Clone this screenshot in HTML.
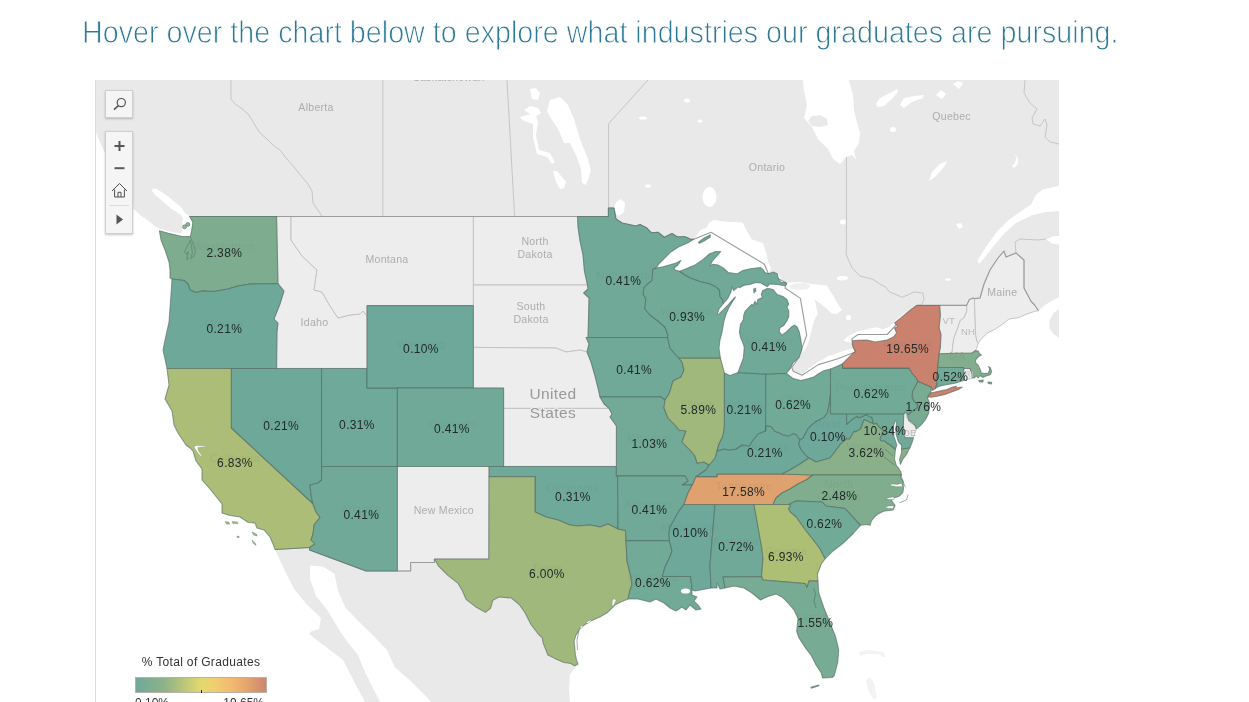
<!DOCTYPE html>
<html lang="en"><head><meta charset="utf-8"><title>Graduate industries map</title>
<style>
html,body{margin:0;padding:0;background:#fff;}
body{width:1249px;height:702px;overflow:hidden;position:relative;font-family:"Liberation Sans",sans-serif;}
#title{position:absolute;left:82.4px;top:11.5px;margin:0;font-weight:normal;font-size:30.5px;line-height:40px;color:#2d7a98;white-space:nowrap;transform-origin:0 0;transform:scaleX(0.9406);-webkit-text-stroke:0.85px #fff;paint-order:fill stroke;}
#map{position:absolute;left:95px;top:80px;width:964px;height:622px;overflow:hidden;background:#fff;}
#map:before{content:"";position:absolute;left:0;top:0;width:1px;height:622px;background:#dcdcdc;z-index:3;}
svg text{font-family:"Liberation Sans",sans-serif;}
.btn{position:absolute;left:10px;width:26px;background:#f5f5f5;border:1px solid #cfcfcf;box-shadow:0 1px 2px rgba(0,0,0,.22);z-index:4;}
#search{top:10px;height:26px;}
#zoom{top:51px;height:101px;}
#zoom svg,#search svg{position:absolute;left:0;top:0;}
#legend{position:absolute;left:40px;top:574px;width:132px;z-index:4;font-size:12px;color:#333;}
#legend .t{position:absolute;left:-10px;top:1.2px;width:152px;text-align:center;line-height:14px;white-space:nowrap;letter-spacing:0.33px;}
#legend .bar{position:absolute;left:0;top:23px;width:130px;height:14px;border:1px solid #b9b2a6;background:linear-gradient(90deg,#6fa99b 0%,#8fb28a 22%,#c4cb75 40%,#e3d96d 50%,#f0ce6f 60%,#f0b86f 75%,#e29f6d 88%,#cc866f 100%);}
#legend .tick{position:absolute;left:66px;top:36px;width:1px;height:3px;background:#222;}
#legend .lo{position:absolute;left:0;top:42.4px;line-height:14px;}
#legend .hi{position:absolute;right:3px;top:42.4px;line-height:14px;}
</style></head><body>
<h1 id="title">Hover over the chart below to explore what industries our graduates are pursuing.</h1>
<div id="map">
<svg width="964" height="622" viewBox="95 80 964 622" style="position:absolute;left:0;top:0;display:block">
<defs><filter id="soft" x="-2%" y="-2%" width="104%" height="104%"><feGaussianBlur stdDeviation="0.75"/></filter></defs>
<rect x="95" y="80" width="964" height="622" fill="#ffffff"/>
<g filter="url(#soft)">
<path d="M85,70 L802,70 L804,91 L807,105 L804,118 L812,127 L818,139 L828,149 L833,159 L840,164 L846,157 L852,155 L856,159 L854,151 L859,143 L860,133 L854,111 L853,95 L846,70 L1069,70 L1069,184 L1058.6,186 L1042.6,189.4 L1035.8,195 L1031.2,204.2 L1019.8,212.2 L1008.4,220.2 L997,231.6 L985.6,247.5 L977.6,260 L978.5,262.8 L979.9,263.5 L992.5,247.5 L1003.9,233.8 L1015.3,223.6 L1031.2,215.6 L1044.9,212.2 L1058.6,211 L1069,210 L1069,235.5 L1053,236.3 L1046.5,239.6 L1052,243.4 L1069,246 L1069,293 L1059,297.3 L1053.8,299.8 L1044.9,305 L1038.5,310.7 L1034.6,305 L1030.8,301 L1028.2,296 L1024,288 L1024,260 L1016,253 L1006,257 L1004,251 L998,258 L990,270 L984,284 L980,298 L974.4,298.6 L970,302 L966.7,306 L939.7,306 L917,306 L905,316 L897,324 L887.2,334.5 L858.1,334.5 L851.8,338.9 L854,348 L855.2,352 L837.8,358.7 L818.4,364.6 L802,375.2 L793.2,371.3 L791.8,367.5 L796.5,361 L802.3,347.1 L806.7,335.2 L800.4,298.4 L785,288 L786,282.8 L768.2,273.2 L764.4,264.2 L711,232.2 L693.8,239.2 L690,240.5 L680,241 L650,240 L620,232 L600,222 L200,222 L189.5,216.5 L184,212 L181,207 L176,203 L170,198 L163,193 L157,189 L153,188.5 L152,191 L155,195 L160,199 L166,204 L171,208.6 L176,211.6 L180.6,214.8 L183,217.8 L182.4,222 L182.4,227 L182,231 L181,233.4 L175,232.4 L168,231 L162,229.6 L159,228.5 L159,228.5 L155,226 L147,219.7 L140,215 L132.7,208 L126,198 L118.5,185.5 L112,170 L104,151 L100,142 L95,130 L85,112Z" fill="#e9e9e9"/>
<path d="M1070,305 L1060,308.8 L1053.8,312.7 L1049.4,320.4 L1049.4,328 L1053.8,334.5 L1060,338.3 L1070,342Z" fill="#e9e9e9"/>
<path d="M275,549.4 L284,569 L294,589 L306,603.5 L321,618 L319,629 L311,631.5 L309,633.5 L314,638 L323.5,645 L343,660 L350.5,674.6 L358,689 L365,702 L370,712 L384,712 L380,702 L372.5,687 L365,672 L358,655 L348,642.7 L338,628 L328,611 L316,596 L310,579 L310,565.5 L323.5,566.8 L334.6,574 L338,591 L345.6,608 L358,620.7 L372.5,635 L387,650 L394.6,667 L409,679.5 L426.5,696.7 L431,702 L440,712 L571,712 L570,702 L569,690 L570,674 L577,666 L572,658 L556,650 L548,636 L536,616 L516,594 L498,590 L490,600 L482,604 L470,592 L460,578 L446,562 L440,555 L420,560 L405,566 L390,566 L360,565 L318,549 L300,545Z" fill="#e9e9e9"/>
<path d="M808,121 L812,116 L820,115 L827,119 L828,125 L820,127 L812,126Z" fill="#e9e9e9"/>
<g fill="#ffffff">
<path d="M693.8,239.2 L697.7,234 L700.3,230.3 L706.7,227.7 L709.2,222.6 L714,220 L722,221.3 L730,222 L742.6,222.6 L746.4,230.3 L751.5,239.2 L763,243 L766.3,253.3 L768.2,262.3 L770.8,267.4 L769.5,272 L778,274 L782,280 L786,282.8 L780,290 L740,285 L700,280 L660,272 L655,266 L675,248Z"/>
<path d="M786,282.8 L800,282 L811.3,284 L826.7,285.6 L831.8,293.3 L836.9,302.3 L842,310 L836.9,313.8 L831.8,313.8 L826.7,308.7 L820.3,303.6 L816.4,301 L814.5,298.5 L816,305 L817.7,313.8 L813.8,321.5 L811.3,331.8 L808.7,342 L804.9,350 L803,352 L798,350 L790,320 L775,290Z"/>
<path d="M790.3,368.4 L791.8,370.4 L799,374.2 L803.9,372.8 L808.7,368.4 L813.6,364.6 L818.4,361.6 L824.2,358.7 L828.1,355.8 L833,354.9 L837.8,352.9 L843.6,351 L849.4,349 L854.3,348.1 L856,351.5 L850,360 L835,370 L810,382 L790,378 L786,373Z"/>
<path d="M853,343 L848,342 L843.3,340.8 L847.5,336.5 L857.2,331.6 L866.9,329.2 L876.5,327.3 L883,329.2 L889.5,326.7 L893.3,322.8 L899.7,316.4 L908.7,310 L917,305 L918,307 L902,320 L898,330 L895,340 L870,344Z"/>
<path d="M803,348 L801,353.9 L798.5,359 L796.2,360.7 L792.3,364.6 L790.3,368.4 L793.2,362.6 L799,357.8 L802,349Z"/>
<path d="M614,208 L616,202 L621,199 L625,203 L624,212 L619,216 L616,214Z"/>
<path d="M550,100 L560,97 L568,105 L574,119 L580,139 L588,159 L591,171 L586,185 L582,183 L581,169 L576,155 L570,143 L564,143 L558,129 L550,117 L547,111Z"/>
<path d="M524,110 L530,106 L538,108 L541,113 L536,116 L538,122 L536,135 L539,150 L550,153 L555,162 L552,164 L547,157 L537,154 L533,137 L533,124 L522,120 L520,117 L530,114Z"/>
<path d="M553,171 L557,171 L566,182 L564,188 L560,189 L556,182Z"/>
<path d="M530,89 L536,88 L540,93 L538,100 L532,99Z"/>
<path d="M876,104 L880,98 L890,93 L897,89 L898,92 L892,99 L884,106 L878,107Z"/>
<path d="M900,105 L904,98 L914,96 L924,95 L923,98 L912,102 L904,108Z"/>
<path d="M936,95 L941,90 L946,94 L942,99Z"/>
<path d="M953,84 L958,81 L963,83 L959,89Z"/>
<path d="M929,181 L932,172 L940,164 L947,161 L944,167 L936,176Z"/>
<path d="M1012,166 L1015,163 L1016.5,158 L1014.5,153 L1018,158 L1018,164 L1014,168Z"/>
<path d="M956,224 L961,223 L963,227 L959,229Z"/>
<ellipse cx="709.5" cy="197" rx="7" ry="10"/>
<ellipse cx="848.5" cy="317.5" rx="2.6" ry="2.6"/>
<ellipse cx="842" cy="278.2" rx="5" ry="2.2"/>
<ellipse cx="893" cy="129.5" rx="3" ry="2.6"/>
<ellipse cx="648" cy="186" rx="3" ry="1.5"/>
<ellipse cx="687" cy="100.5" rx="3" ry="2"/>
<ellipse cx="643" cy="118" rx="4" ry="1.5"/>
<ellipse cx="700" cy="121" rx="2.5" ry="1.5"/>
<ellipse cx="948" cy="279.5" rx="3" ry="1.3"/>
<ellipse cx="843" cy="222" rx="3" ry="2.5"/>
<ellipse cx="844" cy="278" rx="4" ry="2"/>
</g>
<path d="M789.5,285.5 L795,283.5 L804,283 L811,285.5 L808,289 L799,290 L791,289Z" fill="#efefef"/>
<path d="M859,652 L868,650 L884,652 L885,657 L882,657 L880,654 L866,654 L860,656Z M866,680 L870,677 L874,683 L877,698 L873,699 L868,690Z" fill="#f3f3f3"/>
</g>
<g fill="none" stroke="#bdbdbd" stroke-width="0.8">
<path d="M231,80 L231,99 L235,104 L241,108 L248,114 L252,120 L256,127 L260,133 L268,140 L274,146 L280,150 L286,158 L294,167 L302,177 L308,184 L312,191 L313,203 L320,213 L322,216.5"/>
<path d="M382.8,80 L382.8,216.5"/>
<path d="M507,80 L514.6,216.5"/>
<path d="M648,80 L608.6,123.6 L608.6,208"/>
<path d="M846.4,157 L846.4,250 L846,254 L852,268 L860,276 L872.8,279.2 L880.5,284.4 L885.6,287 L889.5,292 L896,294.6 L902.3,297.2 L908.7,294.6 L914,292 L923,293 L924,300 L921,305 L917,305.4"/>
<path d="M1025,80 L1024,93 L1030,103 L1037,109 L1032,118 L1033,124 L1040,126 L1045,119 L1047,125 L1045,137 L1050,142 L1059,144"/>
<path d="M1016,253 L1015,242 L1020,239 L1038,240 L1046,239"/>
</g>
<g fill="#ededed" stroke="#c2c2c2" stroke-width="0.95" stroke-linejoin="round">
<path d="M276.6,216.5 L291,216.5 L291,240 L302,256 L317,270 L314,290 L322,292 L330,306 L338,318 L350,315 L360,314 L363,311 L367,316 L367,368.4 L276.6,368.4 L277,332 L278,323 L274,319 L280,304 L284,291 L278,283.6Z"/>
<path d="M291,216.5 L473.4,216.5 L473.4,305.6 L367,305.6 L367,316 L363,311 L360,314 L350,315 L338,318 L330,306 L322,292 L314,290 L317,270 L302,256 L291,240Z"/>
<path d="M473.4,216.5 L577.6,216.5 L578,227 L580,241 L583,255 L584.4,271 L587,283 L587.5,285 L473.4,285Z"/>
<path d="M473.4,285 L587.5,285 L588,289 L583.6,293 L589,298 L588,337.4 L586,337.4 L589,344 L587,352 L580,350 L566,352 L556,348 L473.4,347.4Z"/>
<path d="M473.4,347.4 L556,348 L566,352 L580,350 L587,352 L587,352 L591,362 L595,376 L598,388 L600,397 L604,404 L609,408.4 L503.6,408.4 L503.6,388 L473.4,388Z"/>
<path d="M503.6,408.4 L609,408.4 L612,414 L610,417 L616.4,426 L616.4,466.4 L503.6,466.4Z"/>
<path d="M397.4,466.4 L489,466.4 L488.8,559 L434.4,559 L434.4,562.5 L410.6,562.5 L410.6,571 L397.4,571Z"/>
<path d="M903.8,413.8 L905.9,412.3 L907,418.2 L909.9,422.5 L915,425.4 L916.4,429 L914.2,434.9 L913.5,437.8 L904.8,437.8 L903.3,425.4Z"/>
<path d="M963.7,368.4 L969.9,368.4 L971.8,373 L972.4,378 L968,379.3 L963.5,380.6Z"/>
<path d="M939.7,305.4 L966.7,305.4 L966.7,311.4 L964.1,317.8 L960.3,320.4 L957.7,328 L953.8,338.3 L952.6,347.3 L952,353.2 L939.1,353.7 L940.4,347.3 L941,334.5 L939.1,328 L940.4,315.2Z"/>
<path d="M966.7,305.4 L969.2,299.8 L973,298 L974.4,298.6 L975,315.2 L975.6,334.5 L977,341.5 L978.5,342.8 L977,347 L975.6,350.5 L971.8,353 L952,353.2 L952.6,347.3 L953.8,338.3 L957.7,328 L960.3,320.4 L964.1,317.8 L966.7,311.4Z"/>
<path d="M974.4,298.6 L980,298 L984,284 L990,270 L998,258 L1004,251 L1006,257 L1016,253 L1024,260 L1024,288 L1028.2,296 L1030.8,301 L1034.6,305 L1038.5,310.7 L1034.6,311.4 L1027,314 L1018,317.8 L1009,319 L1002.6,324.2 L994.9,329.3 L987.2,333.2 L982,338.3 L978.5,342.8 L977,341.5 L975.6,334.5 L975,315.2Z"/>
</g>
<g fill="none" stroke="#9c9c9c" stroke-width="1.1" stroke-linejoin="round">
<path d="M275,549.4 L309.6,547.4 L309.6,550 L366,571 L410.6,571 L410.6,562.5 L434.4,562.5 L434.4,559"/>
<path d="M189.5,216.5 L608.4,216.5 L608.4,208 L614,208 L616,219 L622,223 L636,226 L640,224.5 L646.4,227.7 L651.5,232.8 L658,232.2 L664.4,237.3 L672,233.5 L677,236.7 L685,236.7 L690.6,239.2 L693.8,239.2 L711,232.2 L764.4,264.2 L768.2,273.2 L779,279 L786,282.8 L785,288 L800.4,298.4 L806.7,335.2 L802.3,347.1 L796.5,361 L791.8,367.5 L793.2,371.3 L802,375.2 L818.4,364.6 L837.8,358.7 L855.2,352 L854,348 L851.8,338.9 L858.1,334.5 L887.2,334.5 L897,324 L905,316 L917,305.4 L939.7,305.4 L966.7,305.4 L969.2,299.8 L973,298 L974.4,298.6 L980,298 L984,284 L990,270 L998,258 L1004,251 L1006,257 L1016,253 L1024,260 L1024,288 L1028.2,296 L1030.8,301 L1034.6,305 L1038.5,310.7"/>
</g>
<g stroke="#4f665f" stroke-opacity="0.6" stroke-width="1.05" stroke-linejoin="round">
<path d="M189.5,216.5 L276.6,216.5 L278,283.6 L250,284 L238,286 L228,289 L214,291.6 L202,291 L196,292.4 L190,290 L188,284 L184,280.4 L172,279 L170,278 L170,270 L169,262 L165,250 L161,240 L159.4,230.8 L168.5,233.2 L181.3,236.2 L190.3,236.4 L191.5,231.3 L192.8,222.3Z" fill="#7eac8e"/>
<path d="M278,283.6 L284,291 L280,304 L274,319 L278,323 L277,332 L276.6,368.4 L167,368.4 L163,350 L165,340 L169,322 L171,294 L172,279 L184,280.4 L188,284 L190,290 L196,292.4 L202,291 L214,291.6 L228,289 L238,286 L250,284Z" fill="#6ea899"/>
<path d="M167,368.4 L231.4,368.4 L231.4,428 L312.8,503.5 L316,512 L320,517.4 L314,525 L313,534 L311,540 L315,544 L309.6,547.4 L275,549.4 L273,544 L270,537 L264,530 L257,528 L255,523 L248,522.4 L240,517 L230,515.6 L222,513 L222,504 L218,499 L210,489 L202,480 L202,469 L196,461 L193,451 L190,448 L186,445 L178,433 L174,425 L172,411 L165,399 L169,385Z" fill="#abbd76"/>
<path d="M231.4,368.4 L321.6,368.4 L321.6,480 L318,483 L310,485 L311,495 L312.8,503.5 L231.4,428Z" fill="#6ea899"/>
<path d="M321.6,368.4 L367,368.4 L367,388 L397.4,388 L397.4,466.4 L321.6,466.4Z" fill="#6fa999"/>
<path d="M321.6,466.4 L397.4,466.4 L397.4,571 L366,571 L309.6,550 L309.6,547.4 L315,544 L311,540 L313,534 L314,525 L320,517.4 L316,512 L312.8,503.5 L311,495 L310,485 L318,483 L321.6,480Z" fill="#70a998"/>
<path d="M367,305.6 L473.4,305.6 L473.4,388 L367,388Z" fill="#6da89a"/>
<path d="M397.4,388 L503.6,388 L503.6,466.4 L397.4,466.4Z" fill="#70a998"/>
<path d="M489,466.4 L616.4,466.4 L616.4,476 L617.6,476 L618,525 L618,529 L608,524 L600,527 L590,525 L578,526 L570,525 L558,520 L546,517 L535,512 L535,476.6 L489,476.6Z" fill="#6fa999"/>
<path d="M489,476.6 L535,476.6 L535,512 L546,517 L558,520 L570,525 L578,526 L590,525 L600,527 L608,524 L618,529 L625.6,530.6 L626,540.6 L627,561 L629,569 L631,577 L632,585 L630,590 L628,599 L620.9,602 L615.2,604.8 L612.9,607.1 L607.2,612.8 L600.3,616.8 L591.2,620.8 L585.5,624.2 L579.8,628.8 L575.8,635.6 L574.1,641.3 L574.7,647 L575.3,653.9 L576.4,659.6 L578.1,664.1 L574.7,665.8 L570.7,663.5 L563.9,662.4 L554.7,658.4 L547.9,655 L543.3,643.6 L542.2,637.9 L537.6,633.3 L530.8,624.2 L525,612.8 L519.4,604.8 L511.4,598 L499,597 L492.8,600.4 L490.5,608.4 L485.4,612.4 L476.3,607.3 L466,599.3 L462.6,591.3 L458,583.3 L447.8,575.3 L438.6,566.2 L434.4,559 L488.8,559Z" fill="#a0b87b"/>
<path d="M577.6,216.5 L608.4,216.5 L608.4,208 L614,208 L616,219 L622,223 L636,226 L640,224.5 L646.4,227.7 L651.5,232.8 L658,232.2 L664.4,237.3 L672,233.5 L677,236.7 L685,236.7 L690.6,239.2 L693.8,239.2 L688.7,242.4 L678.5,247 L670.8,252 L664.4,258.5 L659.2,263.6 L656,268 L652.8,269.4 L652.2,280.3 L647.7,284 L643.8,288 L643.2,294.4 L645.8,298.2 L645,309 L650,315 L658,321 L665,327 L668,335 L667.6,337.4 L588,337.4 L589,298 L583.6,293 L588,289 L587.5,285 L587,283 L584.4,271 L583,255 L580,241 L578,227Z" fill="#70a998"/>
<path d="M586,337.4 L667.6,337.4 L670,348 L676,355 L679,358 L682,362 L684,370 L681,377 L673,381 L671,388 L669,394 L665,400 L661,397 L600,397 L598,388 L595,376 L591,362 L587,352 L589,344Z" fill="#70a998"/>
<path d="M600,397 L661,397 L665,400 L664,408 L668,418 L676,426 L679,430 L686,431 L682,442 L690,450 L695,456 L697,463 L704,462 L709,465 L706,470 L700,474 L696,476.6 L692.4,485 L682,485 L688,481 L685,476 L616.4,476 L616.4,426 L610,417 L612,414 L609,408.4 L604,404Z" fill="#73aa97"/>
<path d="M617.6,476 L685,476 L688,481 L682,485 L692.4,485 L688,493 L684,504.4 L679,511 L674,520 L670,527 L669,533 L669.4,540.6 L626,540.6 L625.6,530.6 L618,529 L618,525Z" fill="#70a998"/>
<path d="M626,540.6 L669.4,540.6 L672,551 L669,559 L665,567 L662.4,576.4 L690.6,576.4 L691.6,585 L692,590 L692,595 L697,597 L694,601 L698,605 L701,609 L696,610 L690,605 L686,610 L682,607 L676,611 L670,608 L664,603 L656,599 L650,602 L638,599 L628,599 L630,590 L632,585 L631,577 L629,569 L627,561Z" fill="#71aa97"/>
<path d="M684,504.4 L715,504.4 L710,565 L711,588 L695,591 L692,590 L691.6,585 L690.6,576.4 L662.4,576.4 L665,567 L669,559 L672,551 L669.4,540.6 L669,533 L670,527 L674,520 L679,511Z" fill="#6da89a"/>
<path d="M715,504.4 L754,504.4 L762,549 L763,559 L761.6,576.4 L723,577 L725,588 L720,589 L717,583 L717,588 L711,588 L710,565Z" fill="#71a998"/>
<path d="M684,504.4 L688,493 L692.4,485 L696,476.6 L717,476.6 L717,474 L782,474 L813,475 L806,480 L798,484 L790,489 L782,493 L776,498 L773,504.4Z" fill="#dfa16e"/>
<path d="M696,476.6 L700,474 L706,470 L709,465 L715,458 L717,451 L724,449 L730,450 L736,449 L742,445 L749,446 L753,440 L758,434 L765.6,430.8 L765.5,426.4 L766.8,425.6 L771.4,426.7 L774.8,431.3 L778.2,432.4 L782.8,434.7 L788.5,435.9 L793,433.6 L796.5,434.7 L799.9,439.8 L798.8,443.8 L801,449.5 L805.6,455.2 L809,458 L800,464 L790,470 L782,474 L717,474 L717,476.6Z" fill="#6ea899"/>
<path d="M679,358 L720.4,358 L724.4,373 L724.4,426 L723,436 L719,444 L717,451 L715,458 L709,465 L704,462 L697,463 L695,456 L690,450 L682,442 L686,431 L679,430 L676,426 L668,418 L664,408 L665,400 L669,394 L671,388 L673,381 L681,377 L684,370 L682,362Z" fill="#a0b87c"/>
<path d="M724.4,373 L730,375.6 L738,372.5 L765.8,374 L765.6,430.8 L758,434 L753,440 L749,446 L742,445 L736,449 L730,450 L724,449 L717,451 L719,444 L723,436 L724.4,426Z" fill="#6ea899"/>
<path d="M765.8,374 L786.5,373.3 L793.2,378.6 L801,380.5 L808.7,378.6 L813.6,377.1 L818.4,373.7 L824.2,370.4 L830.5,368.9 L830.5,395 L829.5,402.8 L827.3,413 L823.8,417.6 L817,421 L812.4,424.4 L807.9,429 L805.6,433.6 L803.3,438 L799.9,439.8 L796.5,434.7 L793,433.6 L788.5,435.9 L782.8,434.7 L778.2,432.4 L774.8,431.3 L771.4,426.7 L766.8,425.6 L765.5,426.4 L765.6,430.8Z" fill="#71aa97"/>
<path d="M656,268 L663,266.8 L670.8,264.6 L674.6,263.6 L681,260.4 L678,265 L674,268 L675.3,270 L679.7,271.3 L684.9,275 L691.3,278.3 L700.3,281.5 L709.2,283.5 L715.6,286.7 L719.5,290 L720,296.5 L722.4,299.4 L723.4,303.5 L719,309 L717.1,314.9 L719,313.9 L723.9,309 L728.7,304.2 L731.6,300.8 L734.6,297.4 L735.5,297 L731.6,303.2 L728.7,308 L725.8,314.9 L723.9,321.6 L722,332.3 L720,340 L719,348 L720.4,358 L679,358 L676,355 L670,348 L667.6,337.4 L668,335 L665,327 L658,321 L650,315 L645,309 L645.8,298.2 L643.2,294.4 L643.8,288 L647.7,284 L652.2,280.3 L652.8,269.4Z" fill="#72aa98"/>
<path d="M679.7,271.3 L686,268.7 L695,264.9 L702.8,259.7 L709.2,254 L715.6,251.4 L720.8,251.4 L717,256 L712.4,261 L710,266 L713,264.2 L718.2,264.9 L723.3,268 L728.5,272.6 L733.6,273.2 L737.4,273.8 L742.6,270.6 L750.3,268.7 L760.5,267.4 L763,269.4 L765,272.6 L768.2,273.8 L773.3,272 L777.2,273.8 L778.5,279 L781,282.2 L786,282.8 L786.9,283.9 L784.9,285.8 L777.2,284.4 L769.4,283.9 L767.5,286.6 L765.5,285.8 L760.7,282.9 L755.9,282.4 L750,284.4 L744.2,285.3 L739.4,287.7 L738.4,286.8 L733.6,290.7 L732.1,286.8 L730.7,292.6 L727.8,298.4 L723.4,303.5 L722.4,299.4 L720,296.5 L719.5,290 L715.6,286.7 L709.2,283.5 L700.3,281.5 L691.3,278.3 L684.9,275Z" fill="#70a998"/>
<path d="M767.5,288.5 L770.4,288.7 L773.3,289.7 L777.2,294.5 L783,296.5 L786.9,299.4 L788.8,304.2 L786.9,307 L788.8,311 L788.8,316.8 L786.9,320.7 L783.9,325.5 L780.1,327.5 L779.1,331.3 L782,335.2 L786.9,331.3 L790.7,327.5 L794.6,325 L797.5,327.5 L799.4,332.3 L800.9,340 L802,349 L799,357.8 L793.2,362.6 L790.3,368.4 L786.5,373.3 L765.8,374 L738,372.5 L740.2,366.5 L743.4,358 L744,350 L744.2,347 L743.3,344 L740.8,338 L739.4,332.3 L740.4,324.6 L743.3,319.7 L743.8,314.9 L745.2,311 L748.1,308 L752,304.2 L753,306 L754.9,301.3 L756.8,304.2 L757.8,299.4 L762.6,297.4 L761.2,294.5 L762.6,290.7 L766.5,288.7Z" fill="#70a998"/>
<path d="M698.3,242.4 L704,238 L710.5,234.7 L710,237.3 L704,241 L699.6,243.3Z" fill="#70a998"/>
<path d="M753.6,289 L755.6,288.2 L755.9,291 L754,293Z" fill="#70a998"/>
<path d="M830.5,395 L830.5,413.8 L846.6,413.8 L846.6,424.3 L851.8,419.6 L856.9,416.3 L859,417.8 L862.7,416.3 L866.3,414.5 L869.2,416.7 L871.8,417 L872.8,421 L873.6,424 L864.1,419.6 L863,422.5 L860.5,429 L855.4,432 L854,431.2 L849.6,439.2 L847.4,438.5 L840.9,443.6 L834,453 L830,458 L816,462 L809,458 L805.6,455.2 L801,449.5 L798.8,443.8 L799.9,439.8 L803.3,438 L805.6,433.6 L807.9,429 L812.4,424.4 L817,421 L823.8,417.6 L827.3,413 L829.5,402.8Z" fill="#6da89a"/>
<path d="M782,474 L790,470 L800,464 L809,458 L816,462 L830,458 L834,453 L840.9,443.6 L847.4,438.5 L849.6,439.2 L854,431.2 L855.4,432 L860.5,429 L863,422.5 L864.1,419.6 L873.6,424 L876.5,423.2 L878,425.4 L880.8,428.3 L883.7,430.5 L882.3,434 L880.1,438.5 L880.8,440.7 L884.5,440.7 L886.6,442.8 L890.3,445 L893.9,448 L895.4,449.4 L895.1,453 L894.5,459.2 L896.4,465.6 L899,468.8 L900.9,472 L901.5,474.9 L813,475Z" fill="#89b088"/>
<path d="M901.5,449 L909.9,447.7 L906.7,454.1 L902.8,459.2 L900.3,464.4 L899.6,459.2 L901.5,452.8Z" fill="#89b088"/>
<path d="M846.6,413.8 L903.8,413.8 L903.3,425.4 L904.8,437.8 L913.5,437.8 L912,442.8 L909.9,447.7 L901.5,449 L901.5,445 L899,442.8 L897.5,439.2 L896.1,434.1 L895.7,429 L896.4,424 L896.8,421 L895.4,421 L893.9,424.7 L893.2,430.5 L893.9,436.3 L895.4,440.7 L896.8,445 L895.4,449.4 L893.9,448 L890.3,445 L886.6,442.8 L884.5,440.7 L880.8,440.7 L880.1,438.5 L882.3,434 L883.7,430.5 L880.8,428.3 L878,425.4 L876.5,423.2 L873.6,424 L872.8,421 L871.8,417 L869.2,416.7 L866.3,414.5 L862.7,416.3 L859,417.8 L856.9,416.3 L851.8,419.6 L846.6,424.3Z" fill="#70a998"/>
<path d="M917.8,381.3 L931.4,387.1 L930.9,392.5 L929.4,395.4 L927.5,398.3 L929.4,402.2 L929.4,408 L928.5,413.8 L925.5,419.6 L921.7,424.4 L917.8,427.8 L916.3,428.8 L914.9,425.4 L912,422.5 L909,420.5 L907.6,416.7 L907.6,414.7 L909,413.8 L913,410.9 L916.8,408 L917.8,405 L913.9,401.2 L912,397.3 L912.5,391.5 L914.9,386.7Z" fill="#79ab93"/>
<path d="M830.5,368.9 L837.8,366 L842.6,363.6 L842.6,368.1 L909,368.1 L912,373 L917,379 L917.8,381.3 L914.9,386.7 L912.5,391.5 L912,397.3 L913.9,401.2 L917.8,405 L916.8,408 L913,410.9 L909,413.8 L907.6,414.7 L905.9,412.3 L903.8,413.8 L830.5,413.8Z" fill="#71aa97"/>
<path d="M842.6,368.1 L842.6,363.6 L847.5,358.7 L852.3,353.9 L855.7,351.5 L853.3,348 L852.3,344.2 L852.3,340.8 L857.2,340.3 L866.9,339.9 L875.4,342 L887,340 L893.3,337 L896.5,333 L894.6,328 L897.8,326.7 L894.6,322.8 L901,317.7 L910.3,310 L916.7,305.4 L939.7,305.4 L940.4,315.2 L939.1,328 L941,334.5 L940.4,347.3 L939.1,353.7 L938.5,360 L937.8,367.2 L937.2,375.5 L936,380 L937.2,383.7 L935.2,388.6 L932.3,390.5 L931.4,387.1 L917.8,381.3 L917,379 L912,373 L909,368.1Z" fill="#ca816e"/>
<path d="M927.5,396.8 L930.4,392.9 L935.2,392 L942,390.5 L946.9,389.6 L952.7,387.1 L956.5,386.2 L955.6,388.1 L962.3,387.1 L958.5,389.6 L951.7,392 L944.9,394.4 L937.2,396.3 L931.4,397.3Z" fill="#ca816e"/>
<path d="M937.8,367.5 L963.7,367.5 L963.5,380.6 L955,383.2 L944.9,385 L938.5,386.5 L935.2,388.6 L937.2,383.7 L936,380 L937.2,375.5Z" fill="#71aa97"/>
<path d="M939.1,353.7 L971.8,353 L975.6,350.5 L978.2,351 L979.5,353.7 L981.4,355 L978.2,356.9 L975.6,360 L975.6,362.7 L978.2,365.2 L980,369 L981.4,373 L984.6,373.6 L988.5,373 L989.7,369 L988.5,366.5 L990.4,367.8 L991.7,371.6 L990.4,374.8 L985.9,376 L982.7,377.4 L980,375.5 L978.2,378 L976.3,376 L974.4,378 L972.4,378 L971.8,373 L969.9,368.4 L963.7,368.4 L963.7,367.5 L937.8,367.2 L938.5,360Z" fill="#82ae8d"/>
<path d="M978.8,380.5 L983.3,380 L983,382 L979.5,382Z" fill="#82ae8d"/>
<path d="M987.8,382 L991.7,382.3 L991.5,384 L988.5,383.6Z" fill="#82ae8d"/>
<path d="M813,475 L901.5,474.9 L900.3,477.2 L903,481 L903.5,488.7 L902.8,492.6 L899,496.4 L893.8,497.7 L891.3,500.3 L895.1,505.4 L893.2,509.9 L888.7,510.5 L883.6,511.2 L878.5,513.7 L874.6,516.9 L871.4,520.8 L870.1,525.3 L866.9,524.6 L860.5,525.3 L845.1,508.6 L826,506 L822,502 L796,501 L789,504.4 L773,504.4 L776,498 L782,493 L790,489 L798,484 L806,480Z" fill="#7fad8e"/>
<path d="M789,504.4 L796,501 L822,502 L826,506 L845.1,508.6 L860.5,525.3 L853.7,533 L843.4,543 L833,551 L825,559 L820,549 L814,541 L806,531 L796,517 L790.6,512.4 L788.4,508.8 L790.6,505Z" fill="#71aa97"/>
<path d="M754,504.4 L789,504.4 L790.6,505 L788.4,508.8 L790.6,512.4 L796,517 L806,531 L814,541 L820,549 L825,559 L821.3,564 L817.4,574.5 L818,581 L809,581 L807,587.5 L805,583.5 L763,580 L761.6,576.4 L763,559 L762,549Z" fill="#adbe75"/>
<path d="M723,577 L761.6,576.4 L763,580 L805,583.5 L807,587.5 L809,581 L818,581 L818.7,592.6 L824,608 L830.4,623.7 L835.6,636.7 L838.7,649.7 L837.7,662.6 L834.3,675.6 L832.5,677.4 L822.6,678 L821.3,673 L816,665 L811,655 L805.8,648.4 L799,638 L796.7,631.5 L798,618.5 L794,610 L788,603 L782,597 L776,594 L768,596.5 L760.4,600 L752,593 L744,588 L734,586 L725,588Z" fill="#77ab94"/>
<path d="M811,687.3 L818.7,684.9 L818.9,685.8 L811.2,688.2Z" fill="#77ab94"/>
</g>
<g fill="#ffffff">
<path d="M194,446.8 L196.5,445.6 L206,446 L206,446.8 L197.6,447.4 L198.5,451 L202,456 L200.6,456.2 L196.6,451.2Z" stroke="#4d6b62" stroke-opacity="0.45" stroke-width="0.5"/>
<ellipse cx="685.5" cy="591" rx="4.6" ry="2.6"/>
<path d="M612,604.5 L612.4,600 L614.5,598.8 L616,600.5 L614.6,603.5 L613.2,606.2Z M586,622.6 L590.5,620 L591.5,621 L587.5,623.6Z M580,627 L582,625.4 L583,626.6 L581,628.4Z" stroke="#4f665f" stroke-opacity="0.5" stroke-width="0.5"/>
<path d="M889.6,485.6 L892,484 L897,484.4 L901.5,483.2 L902.6,486.6 L897,486.8 L893,486Z M885.5,498.6 L890,497.4 L894,497 L894,499.4 L889,499.6Z M884.5,507 L889,506 L893.6,506 L893.4,508.4 L888,508.2Z" stroke="#4f665f" stroke-opacity="0.5" stroke-width="0.6"/>
</g>
<g fill="none" stroke="#4d6b62" stroke-opacity="0.6" stroke-width="0.9">
<path d="M190.3,236.4 L192.2,241.5 L194.1,246.7 L195.4,251.8 L193.5,257 L190.6,258.4 L192.4,253 L191.6,247.5 L190.3,240.3 L187.7,245.4 L184.5,251.8 L186.4,254.4 L188.3,251.6 L186.6,259.2 L189,258.6" stroke-width="0.8"/>
<circle cx="184.6" cy="226.8" r="2" fill="#8fb5a0"/><circle cx="187.9" cy="224.4" r="2" fill="#8fb5a0"/>
<path d="M901,476 L905.4,487.4 M908,494.5 L906.7,499.6 L899.6,502.8"/>
<path d="M813.5,588 L815.5,594 L814,601 L816,608"/>
<path d="M885,449 L893,456 M884,457 L894.5,465 M579,630 L577,640 L577.5,650"/>
</g>
<path d="M225,521.5 L229,522.3 L229.5,524.2 L226.5,524Z M232,521.6 L237.5,522 L237.8,523.6 L233,523.5Z M252,532 L256.5,534 L257,536 L253.5,535Z M237,536 L239.2,536.6 L239,537.8 L237,537.2Z M252,540 L255.5,543.5 L256,545.5 L253,543Z" fill="#abbd76" stroke="#4d6b62" stroke-opacity="0.6" stroke-width="0.6"/>
<g font-size="11" fill="#5b7f76" fill-opacity="0.13" text-anchor="middle" letter-spacing="0.4">
<text x="224" y="250">Washington</text>
<text x="224" y="327">Oregon</text>
<text x="235" y="462">California</text>
<text x="281" y="424">Nevada</text>
<text x="357" y="424">Utah</text>
<text x="361" y="513">Arizona</text>
<text x="421" y="348">Wyoming</text>
<text x="452" y="428">Colorado</text>
<text x="573" y="492">Oklahoma</text>
<text x="547" y="572">Texas</text>
<text x="623" y="279">Minnesota</text>
<text x="687" y="315">Wisconsin</text>
<text x="634" y="368">Iowa</text>
<text x="698" y="408">Illinois</text>
<text x="744" y="408">Indiana</text>
<text x="793" y="403">Ohio</text>
<text x="649" y="442">Missouri</text>
<text x="765" y="451">Kentucky</text>
<text x="769" y="345">Michigan</text>
<text x="649" y="508">Arkansas</text>
<text x="690" y="531">Mississippi</text>
<text x="736" y="545">Alabama</text>
<text x="786" y="555">Georgia</text>
<text x="744" y="490">Tennessee</text>
<text x="653" y="581">Louisiana</text>
<text x="815" y="621">Florida</text>
<text x="908" y="347">New York</text>
<text x="871" y="391">Pennsylvania</text>
<text x="866" y="451">Virginia</text>
<text x="839" y="488">North</text><text x="839" y="500">Carolina</text><text x="828" y="428">West</text><text x="828" y="440">Virginia</text>
</g>
<g font-size="10.6" fill="#adadad" text-anchor="middle" letter-spacing="0.25">
<text x="316" y="110.8">Alberta</text>
<text x="448.6" y="81.2">Saskatchewan</text>
<text x="767" y="171.4">Ontario</text>
<text x="951.6" y="120.2">Quebec</text>
<text x="387" y="263.2">Montana</text>
<text x="314.5" y="326.4">Idaho</text>
<text x="535" y="245.2">North</text>
<text x="535" y="257.6">Dakota</text>
<text x="531" y="310.2">South</text>
<text x="531" y="323.2">Dakota</text>
<text x="443.8" y="514.4">New Mexico</text>
<text x="1002.3" y="295.8">Maine</text>
<text x="957.5" y="360" fill="#7d9f86" fill-opacity="0.7">MA</text><text x="969" y="377" fill="#c8c8c8" font-size="9">RI</text><g font-size="9.5" fill="#b9b9b9"><text x="948.8" y="324">VT</text><text x="968" y="334.5">NH</text><text x="909.8" y="436.3">DE</text></g>
</g>
<g font-size="15.5" fill="#999999" text-anchor="middle" letter-spacing="0.4" stroke="#ededed" stroke-width="2.4" paint-order="stroke" stroke-linejoin="round"><text x="553" y="398.5">United</text><text x="553" y="417.6">States</text></g>
<g font-size="12" fill="#222a27" text-anchor="middle" letter-spacing="0.35">
<text x="224.3" y="256.8">2.38%</text>
<text x="224.3" y="332.8">0.21%</text>
<text x="235" y="467.4">6.83%</text>
<text x="281.2" y="429.8">0.21%</text>
<text x="357" y="429.4">0.31%</text>
<text x="452" y="433.2">0.41%</text>
<text x="421" y="353.4">0.10%</text>
<text x="361.3" y="519.2">0.41%</text>
<text x="547" y="578.2">6.00%</text>
<text x="573" y="500.8">0.31%</text>
<text x="623.3" y="284.8">0.41%</text>
<text x="687.2" y="321.4">0.93%</text>
<text x="634.2" y="374.4">0.41%</text>
<text x="698.3" y="414.4">5.89%</text>
<text x="744.3" y="414.4">0.21%</text>
<text x="793.2" y="409.2">0.62%</text>
<text x="649.3" y="448.4">1.03%</text>
<text x="764.8" y="457.2">0.21%</text>
<text x="768.8" y="351.4">0.41%</text>
<text x="649.3" y="514.2">0.41%</text>
<text x="690.3" y="537.2">0.10%</text>
<text x="736.2" y="551.4">0.72%</text>
<text x="786" y="561.2">6.93%</text>
<text x="743.7" y="496.2">17.58%</text>
<text x="653" y="586.8">0.62%</text>
<text x="815.5" y="627.1">1.55%</text>
<text x="907.7" y="353.2">19.65%</text>
<text x="871.3" y="397.8">0.62%</text>
<text x="950.5" y="381.2">0.52%</text>
<text x="923.3" y="411.2">1.76%</text>
<text x="885" y="435.2">10.34%</text>
<text x="828" y="440.6">0.10%</text>
<text x="866.5" y="456.8">3.62%</text>
<text x="839.3" y="500.4">2.48%</text>
<text x="824.3" y="527.8">0.62%</text>
</g>
</svg>
<div class="btn" id="search"><svg width="26" height="26" viewBox="0 0 26 26"><circle cx="15.3" cy="11.6" r="4.1" fill="none" stroke="#555" stroke-width="1.2"/><path d="M12.4,14.6 L8,18.6" stroke="#555" stroke-width="1.5" fill="none"/></svg></div>
<div class="btn" id="zoom"><svg width="26" height="101" viewBox="0 0 26 101"><path d="M8.5,14 H18.5 M13.5,9 V19" stroke="#565656" stroke-width="2" fill="none"/><path d="M8.5,36.2 H18.5" stroke="#5c5c5c" stroke-width="2"/><path d="M6,59 L13.5,51.5 L21,59 M8.6,57.5 V65 H18.4 V57.5 M12,65 V60.3 H15 V65" fill="none" stroke="#505050" stroke-width="1"/><path d="M3,73.5 H23" stroke="#ddd" stroke-width="1"/><path d="M10.5,82.5 L17,87.5 L10.5,92.5Z" fill="#555"/></svg></div>
<div id="legend"><div class="t">% Total of Graduates</div><div class="bar"></div><div class="tick"></div><div class="lo">0.10%</div><div class="hi">19.65%</div></div>
</div>
</body></html>
